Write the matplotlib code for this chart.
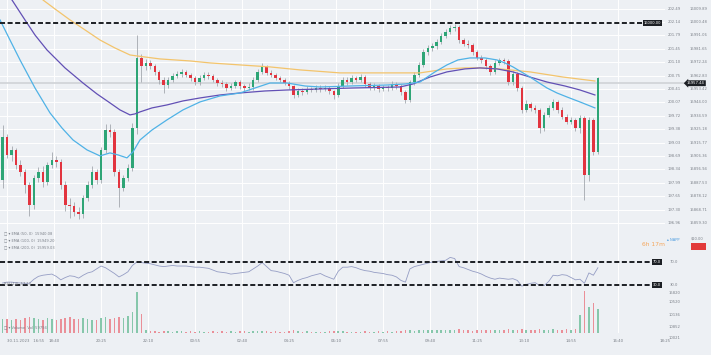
import matplotlib
matplotlib.use("Agg")
import matplotlib.pyplot as plt
from matplotlib.patches import Rectangle

# NAS100, 10 minute bars from 30.11.2023 16:55
first_open = 15889.5
closes = [
    15919.7, 15907.1, 15910.6, 15900.0, 15895.1, 15886.0, 15872.0, 15890.9, 15895.1, 15888.1,
    15900.0, 15903.6, 15902.2, 15886.0, 15872.0, 15871.3, 15867.0, 15865.6, 15876.9, 15886.0,
    15895.1, 15889.5, 15910.6, 15924.6, 15923.2, 15895.1, 15883.9, 15890.9, 15897.9, 15925.8,
    15975.2, 15969.6, 15971.7, 15969.6, 15965.4, 15959.7, 15956.2, 15959.7, 15962.5, 15963.9,
    15965.4, 15963.2, 15961.1, 15958.3, 15961.1, 15963.2, 15962.5, 15959.7, 15957.6, 15956.9,
    15954.1, 15955.5, 15958.3, 15955.5, 15954.1, 15954.8, 15959.7, 15965.4, 15968.9, 15964.7,
    15963.2, 15961.1, 15959.7, 15957.6, 15955.5, 15949.2, 15952.0, 15951.3, 15953.4, 15952.7,
    15954.1, 15953.4, 15954.1, 15952.0, 15949.2, 15955.5, 15959.7, 15958.3, 15961.1, 15959.7,
    15961.8, 15956.9, 15954.1, 15955.5, 15953.4, 15954.8, 15954.1, 15956.9, 15955.5, 15951.3,
    15945.7, 15958.3, 15963.2, 15970.3, 15979.4, 15982.2, 15983.6, 15986.4, 15990.6, 15993.4,
    15996.2, 15997.0, 15987.8, 15985.0, 15984.3, 15979.4, 15975.2, 15973.8, 15969.6, 15965.4,
    15971.7, 15973.8, 15973.1, 15958.3, 15963.9, 15954.1, 15938.7, 15942.9, 15940.0, 15938.7,
    15925.8, 15935.2, 15940.0, 15944.3, 15938.7, 15933.8, 15930.2, 15931.6, 15925.8, 15933.0,
    15893.1, 15931.6, 15909.2, 15961.1,
]
highs = [
    15928.0, 15921.5, 15913.5, 15912.0, 15903.5, 15897.0, 15888.0, 15893.0, 15898.5, 15899.0,
    15902.0, 15909.0, 15906.0, 15904.0, 15888.5, 15877.0, 15874.0, 15870.5, 15879.0, 15888.5,
    15899.0, 15897.5, 15913.0, 15928.5, 15929.0, 15925.0, 15897.0, 15893.0, 15900.5, 15929.5,
    15991.3, 15978.0, 15974.5, 15973.5, 15971.0, 15967.0, 15961.5, 15961.5, 15964.5, 15966.0,
    15967.5, 15967.0, 15964.5, 15962.5, 15963.0, 15965.5, 15965.0, 15964.0, 15961.0, 15959.5,
    15958.0, 15957.5, 15960.0, 15959.5, 15957.0, 15957.5, 15961.5, 15967.5, 15971.5, 15970.0,
    15966.5, 15964.5, 15962.5, 15961.0, 15959.0, 15956.5, 15954.0, 15954.0, 15955.5, 15955.0,
    15956.0, 15956.0, 15956.5, 15955.5, 15953.0, 15957.5, 15962.0, 15961.5, 15963.5, 15962.5,
    15964.0, 15963.0, 15958.0, 15957.5, 15957.0, 15956.5, 15956.5, 15959.0, 15958.5, 15957.0,
    15952.5, 15960.0, 15965.5, 15972.5, 15981.5, 15984.5, 15986.0, 15988.5, 15993.0, 15995.5,
    15998.5, 15999.0, 15998.0, 15989.5, 15987.5, 15986.0, 15981.0, 15977.0, 15975.5, 15971.0,
    15973.5, 15975.5, 15975.5, 15974.5, 15966.0, 15965.5, 15955.5, 15945.5, 15944.5, 15942.0,
    15940.0, 15937.5, 15942.0, 15946.5, 15945.5, 15940.5, 15935.5, 15933.5, 15933.0, 15935.0,
    15934.5, 15933.5, 15933.0, 15962.0,
]
lows = [
    15884.0, 15905.0, 15903.0, 15897.5, 15892.0, 15880.5, 15864.5, 15869.0, 15888.0, 15884.5,
    15886.0, 15898.0, 15898.5, 15883.0, 15868.0, 15862.5, 15864.0, 15862.0, 15863.0, 15874.5,
    15884.0, 15886.5, 15887.5, 15908.5, 15919.5, 15892.0, 15870.5, 15881.5, 15888.5, 15895.5,
    15922.0, 15958.0, 15967.0, 15967.5, 15963.0, 15957.0, 15950.5, 15954.0, 15958.0, 15961.0,
    15962.0, 15961.5, 15959.0, 15956.0, 15956.5, 15959.5, 15960.5, 15958.0, 15955.5, 15955.0,
    15952.0, 15952.5, 15954.0, 15953.5, 15952.0, 15952.5, 15953.0, 15958.0, 15964.0, 15963.0,
    15961.5, 15959.5, 15958.0, 15956.0, 15953.5, 15947.0, 15947.5, 15949.5, 15950.0, 15951.0,
    15951.0, 15951.5, 15952.0, 15950.0, 15946.5, 15948.0, 15954.0, 15956.5, 15957.0, 15958.0,
    15958.5, 15955.0, 15952.5, 15952.5, 15951.5, 15952.0, 15952.0, 15952.5, 15953.5, 15949.5,
    15943.5, 15944.5, 15956.5, 15962.0, 15969.0, 15977.0, 15980.0, 15981.5, 15985.0, 15989.0,
    15992.0, 15994.0, 15986.0, 15983.5, 15982.5, 15977.5, 15973.5, 15972.0, 15967.5, 15963.5,
    15964.0, 15970.0, 15971.0, 15956.5, 15956.5, 15952.0, 15936.5, 15937.0, 15938.0, 15936.5,
    15922.5, 15924.0, 15933.5, 15938.5, 15936.5, 15932.0, 15928.5, 15928.5, 15924.0, 15922.5,
    15875.5, 15889.0, 15907.0, 15907.5,
]
rsi = [
    33.5, 35, 35, 34, 33.5, 33, 33, 40, 45, 47,
    48, 49, 45, 39, 43, 46, 45, 42, 47, 51,
    53, 58, 63, 60, 55, 50, 44, 48, 53, 64,
    70, 69, 68, 67, 65, 63, 62, 63, 64, 63,
    63, 63, 62, 61, 61, 60, 59, 56, 53, 52,
    51, 49, 50, 51, 52, 53, 58, 63, 69, 62,
    55, 54, 52, 50, 47, 34, 38, 41, 43, 46,
    48, 50, 46, 43, 40, 54, 61, 61, 62, 60,
    57, 55, 54, 52, 51, 50, 48, 47, 44, 38,
    35, 58, 62, 64, 66, 68, 70, 71, 72, 73,
    78, 76, 62, 60, 57, 54, 52, 49, 45, 42,
    40, 42, 41, 40, 41, 38, 28, 31, 33, 34,
    29, 29, 36, 47, 46, 48, 47, 43, 39, 40,
    33, 51, 47, 60,
]
volume = [
    1450, 1380, 1300, 1420, 1350, 1500, 1600, 1550, 1400, 1320,
    1480, 1390, 1300, 1450, 1520, 1600, 1380, 1450, 1500, 1420,
    1330, 1290, 1550, 1620, 1400, 1480, 1560, 1500, 1700, 2100,
    4100, 1900, 260, 180, 220, 150, 240, 170, 130, 190,
    160, 120, 210, 140, 180, 110, 150, 200, 130, 170,
    140, 190, 120, 160, 210, 130, 250, 180, 220, 160,
    140, 180, 120, 150, 200, 260, 170, 130, 160, 120,
    150, 110, 140, 170, 230, 190, 160, 120, 150, 140,
    130, 170, 150, 120, 160, 140, 180, 150, 170, 210,
    280, 320, 250, 300, 340, 260, 310, 280, 350, 300,
    330, 290, 360, 270, 310, 250, 290, 320, 260, 340,
    300, 270, 310, 380, 290, 350, 420, 330, 300, 280,
    400, 350, 320, 380, 300, 330, 360, 310, 420, 1800,
    4200, 2600, 3000, 2400,
]

# moving averages (bar index, price)
ma50_x = [-0.58, 1.65, 3.89, 7.24, 10.59, 13.27, 15.73, 18.86, 21.76, 24.0, 25.78, 27.79, 29.13,
          30.7, 33.38, 36.73, 40.3, 44.1, 48.57, 53.04, 56.39, 59.74, 63.54, 67.56, 70.91, 77.61,
          85.88, 89.9, 93.25, 96.6, 99.28, 101.74, 104.42, 107.77, 110.45, 112.24, 114.03, 117.82,
          121.63, 123.86, 126.09, 129.0, 132.34]
ma50_y = [16001.9, 15987.8, 15973.8, 15954.1, 15936.6, 15926.0, 15917.6, 15910.6, 15906.4, 15908.5,
          15907.1, 15905.0, 15909.2, 15917.6, 15924.6, 15931.7, 15938.7, 15944.3, 15948.5, 15950.6,
          15954.1, 15957.6, 15957.6, 15955.5, 15954.8, 15955.5, 15956.2, 15956.9, 15958.3, 15965.4,
          15970.3, 15973.8, 15975.2, 15975.2, 15973.8, 15971.7, 15968.9, 15961.8, 15954.1, 15950.6,
          15947.8, 15944.3, 15940.1]
ma100_x = [0.54, 2.10, 5.0, 7.24, 9.92, 13.94, 17.96, 21.09, 24.0, 26.23, 28.46, 29.58, 30.7,
           33.38, 36.73, 40.3, 44.1, 48.57, 53.04, 58.62, 63.54, 70.91, 78.28, 84.3, 88.78, 91.69,
           95.49, 99.28, 103.3, 106.65, 110.45, 114.03, 117.82, 121.63, 125.64, 129.0, 132.34]
ma100_y = [16022.9, 16015.9, 16001.9, 15991.3, 15980.8, 15968.2, 15957.6, 15949.9, 15943.6, 15938.7,
           15935.2, 15935.9, 15937.3, 15940.1, 15942.2, 15945.0, 15947.1, 15949.2, 15950.6, 15952.0,
           15952.7, 15953.4, 15954.1, 15954.5, 15954.8, 15956.9, 15961.8, 15965.4, 15967.5, 15968.2,
           15967.5, 15965.4, 15961.8, 15958.3, 15955.5, 15952.7, 15949.2]
ma200_x = [7.24, 9.03, 11.71, 15.06, 18.41, 21.76, 25.11, 28.46, 30.03, 35.17, 41.87, 46.33, 53.04,
           59.74, 66.44, 75.38, 84.3, 93.25, 99.28, 103.3, 106.65, 111.1, 117.82, 125.19, 132.34]
ma200_y = [16022.9, 16015.9, 16009.6, 16001.9, 15994.9, 15987.8, 15982.2, 15977.3, 15976.6, 15974.5,
           15973.1, 15971.7, 15970.3, 15968.9, 15966.8, 15964.7, 15964.7, 15964.7, 15967.5, 15968.2,
           15968.2, 15967.5, 15965.4, 15961.8, 15959.0]

price_ticks = [16009.89, 16000.48, 15991.06, 15981.65, 15972.24, 15962.83, 15953.42, 15944.00, 15934.59,
               15925.18, 15915.77, 15906.36, 15896.94, 15887.53, 15878.12, 15868.71, 15859.30]
alt_labels = ["202.49", "202.14", "201.79", "201.45", "201.10", "200.75", "200.41", "200.07", "199.72",
              "199.38", "199.03", "198.69", "198.34", "197.99", "197.65", "197.30", "196.96"]
time_labels = ["30.11.2023   16:55", "18:40", "20:25", "22:10", "00:55", "02:40", "04:25", "06:10",
               "07:55", "09:40", "11:25", "13:10", "14:55", "16:40", "18:25"]
vol_labels = ["15820", "10520", "10136", "10852", "10021"]

resistance = 16000.00
last_price = 15957.44
rsi_levels = [70.0, 30.0]

BG = "#edf0f4"
TXT = "#7b8088"
DARK = "#1c1f24"
GREEN = "#2ea576"
RED = "#e2343f"
W, H = 711, 355
RIGHT = 665  # right edge of the plotting area in px

fig = plt.figure(figsize=(W / 100, H / 100), dpi=100, facecolor=BG)


def panel(top, bottom):
    return fig.add_axes([0, 1 - bottom / H, RIGHT / W, (bottom - top) / H])


ax = panel(0, 252)
ax_rsi = panel(252, 290)
ax_vol = panel(290, 333)

n = len(closes)
idx = list(range(n))
opens = [first_open] + closes[:-1]
colors = [GREEN if c >= o else RED for o, c in zip(opens, closes)]
tick_idx = [1 + 10.5 * k for k in range(len(time_labels))]

for a in (ax, ax_rsi, ax_vol):
    a.set_facecolor(BG)
    for s in a.spines.values():
        s.set_visible(False)
    a.set_xlim(-0.58, 148)
    a.set_xticks(tick_idx)
    a.tick_params(length=0, labelbottom=False, labelleft=False)
    a.grid(True, color="white", lw=0.7)
    a.set_axisbelow(True)

# --- price panel
ax.set_ylim(15838.9, 16015.9)
ax.set_yticks(price_ticks)
ax.axhline(last_price, color="#cfd2d6", lw=1.2, xmax=1.03, clip_on=False, zorder=1)
ax.vlines(idx, lows, highs, colors="#a3a8ae", lw=0.6, zorder=2)
ax.bar(idx, [c - o for o, c in zip(opens, closes)], bottom=opens, width=0.56, color=colors, zorder=3)
ax.plot(ma200_x, ma200_y, color="#f3c46c", lw=0.9, zorder=4)
ax.plot(ma100_x, ma100_y, color="#6250b5", lw=0.9, zorder=4)
ax.plot(ma50_x, ma50_y, color="#4fb2e6", lw=0.9, zorder=4)

ax.axhline(resistance, xmax=643 / RIGHT, color=DARK, lw=1.4, ls=(0, (2.6, 1.3)), zorder=5)
ytr = ax.get_yaxis_transform()
ax.text(652.5 / RIGHT, resistance, f"{resistance:.2f}", transform=ytr, ha="center", va="center",
        fontsize=2.6, color="white", bbox=dict(boxstyle="square,pad=0.3", fc=DARK, ec="none"))
for val, alt in zip(price_ticks, alt_labels):
    ax.text(668 / RIGHT, val, alt, transform=ytr, ha="left", va="center", fontsize=2.7, color=TXT, clip_on=False)
    ax.text(690 / RIGHT, val, f"{val:.2f}", transform=ytr, ha="left", va="center", fontsize=2.7,
            color=TXT, clip_on=False)
ax.text(687 / RIGHT, last_price, f"{last_price:.2f}", transform=ytr, ha="left", va="center", fontsize=2.7,
        color="white", clip_on=False, bbox=dict(boxstyle="larrow,pad=0.25", fc=DARK, ec="none"))

legend_lines = ["EMA (50, 0)  15940.08", "EMA (100, 0)  15949.20", "EMA (200, 0)  15959.03"]
for k, line in enumerate(legend_lines):
    fig.text(4 / W, 1 - (233 + 7 * k) / H, "\u25a1 \u25be " + line, fontsize=2.6, color=TXT, va="center")

fig.text(642 / W, 1 - 245 / H, "6h 17m", fontsize=4.3, color="#f5a65b", va="center")
fig.text(667 / W, 1 - 240 / H, "\u25b4 NAPP", fontsize=2.6, color="#4a9be0", va="center")
fig.text(691 / W, 1 - 238 / H, "$10.00", fontsize=2.6, color=TXT, va="center")
fig.add_artist(Rectangle((691 / W, 1 - 250 / H), 15 / W, 7 / H, transform=fig.transFigure,
                         color="#e23a3a", lw=0))

# --- RSI panel
ax_rsi.set_ylim(21.3, 87.4)
ax_rsi.set_yticks([])
ax_rsi.plot(idx, rsi, color="#959dc4", lw=0.6)
rtr = ax_rsi.get_yaxis_transform()
for lvl in rsi_levels:
    ax_rsi.axhline(lvl, xmax=651 / RIGHT, color=DARK, lw=1.4, ls=(0, (2.6, 1.3)))
    ax_rsi.text(657 / RIGHT, lvl, f"{lvl:.1f}", transform=rtr, ha="center", va="center", fontsize=2.6,
                color="white", bbox=dict(boxstyle="square,pad=0.3", fc=DARK, ec="none"))
    ax_rsi.text(670 / RIGHT, lvl, f"{lvl:.1f}", transform=rtr, ha="left", va="center", fontsize=2.7,
                color=TXT, clip_on=False)
fig.text(4 / W, 1 - 284 / H, "RSI (14)  57.13", fontsize=2.6, color=TXT, va="center")

# --- volume panel
vol_colors = ["#ea8f98" if c == RED else "#86c7ab" for c in colors]
ax_vol.set_ylim(0, 4300)
ax_vol.set_yticks([])
ax_vol.bar(idx, volume, width=0.35, color=vol_colors)
for y, lab in zip([293, 302, 315, 327, 338], vol_labels):
    fig.text(669 / W, 1 - y / H, lab, fontsize=2.7, color=TXT, va="center")
fig.text(4 / W, 1 - 327 / H, "\u25a1 \u25be Volume  Vol  59794", fontsize=2.6, color=TXT, va="center")

ax_vol.set_xticks(tick_idx, time_labels)
ax_vol.tick_params(axis="x", labelbottom=True, labelsize=2.8, labelcolor=TXT, pad=4.5)
ax_vol.get_xticklabels()[0].set_horizontalalignment("left")

fig.savefig("out.png", dpi=100, facecolor=BG)
